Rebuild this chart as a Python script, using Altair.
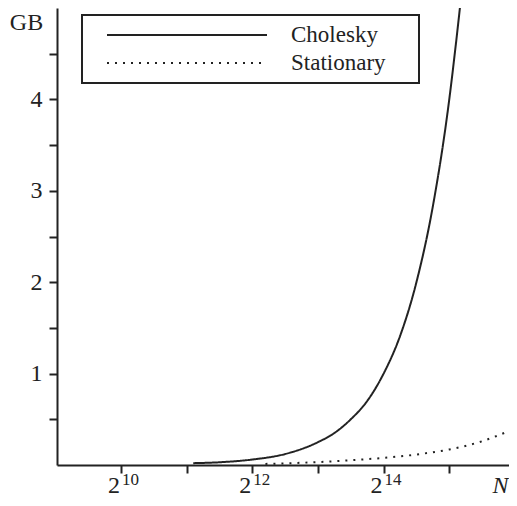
import altair as alt
import pandas as pd

# ---- data (x = log2 N, y = GB) ----
chol_log2n = [11.1, 11.5, 12.0, 12.5, 13.0, 13.25, 13.5, 13.75, 14.0, 14.25, 14.5, 14.75, 15.0, 15.1, 15.2]
chol_gb = [0.02, 0.03, 0.06, 0.12, 0.25, 0.35, 0.5, 0.7, 1.0, 1.41, 2.0, 2.83, 4.0, 4.6, 5.25]
stat_log2n = [12.2, 12.5, 13.0, 13.5, 14.0, 14.5, 15.0, 15.5, 16.0]
stat_gb = [0.012, 0.018, 0.032, 0.052, 0.078, 0.115, 0.17, 0.26, 0.40]
series_names = ["Cholesky", "Stationary"]
x_tick_values = [10, 11, 12, 13, 14, 15]
x_label_values = [10, 12, 14]
x_label_exponents = ["10", "12", "14"]
y_tick_values = [0.5, 1, 1.5, 2, 2.5, 3, 3.5, 4, 4.5]

FONT = "Liberation Serif"
INK = "#222222"

df = pd.concat([
    pd.DataFrame({"log2n": chol_log2n, "gb": chol_gb, "series": series_names[0]}),
    pd.DataFrame({"log2n": stat_log2n, "gb": stat_gb, "series": series_names[1]}),
])
lab_df = pd.DataFrame({"x": x_label_values, "base": ["2"] * len(x_label_values), "exp": x_label_exponents})

xscale = alt.Scale(domain=[9.025, 15.91], nice=False, zero=False)
yscale = alt.Scale(domain=[0, 5], nice=False, zero=False)

xaxis = alt.Axis(values=x_tick_values, labels=False, grid=False, ticks=True, tickSize=8, tickWidth=2,
                 tickColor=INK, domainColor=INK, domainWidth=2,
                 title="N", titleFont=FONT, titleFontSize=24, titleFontStyle="italic",
                 titleFontWeight="normal", titleColor=INK, titleX=443, titleY=27,
                 titleAlign="center", titleBaseline="alphabetic")
yaxis = alt.Axis(values=y_tick_values,
                 labelExpr="datum.value % 1 == 0 ? format(datum.value, 'd') : ''",
                 grid=False, tickSize=8, tickWidth=2, tickColor=INK, domainColor=INK, domainWidth=2,
                 labelFont=FONT, labelFontSize=24, labelColor=INK, labelPadding=7,
                 title="GB", titleAngle=0, titleX=-31, titleY=21, titleAlign="center",
                 titleBaseline="alphabetic", titleFont=FONT, titleFontSize=24,
                 titleFontWeight="normal", titleColor=INK)

legend = alt.Legend(orient="none", legendX=25, legendY=7, title=None, direction="vertical",
                    padding=6, rowPadding=0, clipHeight=28, symbolType="stroke", symbolSize=25600,
                    symbolStrokeWidth=2, symbolStrokeColor=INK, symbolOffset=18, labelOffset=23,
                    labelFont=FONT, labelFontSize=23, labelColor=INK,
                    labelExpr="datum.label + '\u2003\u2006\u200b'", strokeColor=INK)

lines = alt.Chart(df).mark_line(clip=True, interpolate="monotone", strokeWidth=2, color=INK,
                                strokeCap="butt").encode(
    x=alt.X("log2n:Q", scale=xscale, axis=xaxis),
    y=alt.Y("gb:Q", scale=yscale, axis=yaxis),
    strokeDash=alt.StrokeDash("series:N", scale=alt.Scale(domain=series_names, range=[[1, 0], [2, 6]]),
                              legend=legend),
)

base_txt = alt.Chart(lab_df).mark_text(align="right", baseline="alphabetic", dx=-1, dy=28,
                                       font=FONT, fontSize=24, color=INK).encode(
    x=alt.X("x:Q", scale=xscale, axis=xaxis),
    y=alt.Y(datum=0, type="quantitative", scale=yscale, axis=yaxis),
    text="base:N",
)
exp_txt = alt.Chart(lab_df).mark_text(align="left", baseline="alphabetic", dx=1, dy=20,
                                      font=FONT, fontSize=17, color=INK).encode(
    x=alt.X("x:Q", scale=xscale, axis=xaxis),
    y=alt.Y(datum=0, type="quantitative", scale=yscale, axis=yaxis),
    text="exp:N",
)

chart = alt.layer(lines, base_txt, exp_txt).properties(
    width=452, height=457,
    autosize=alt.AutoSizeParams(type="none"),
    padding={"left": 49, "top": 0, "right": 0, "bottom": 33},
).configure_view(stroke=None).configure_legend(strokeWidth=2)

chart.save("out.html", embed_options={"renderer": "svg", "actions": False})
